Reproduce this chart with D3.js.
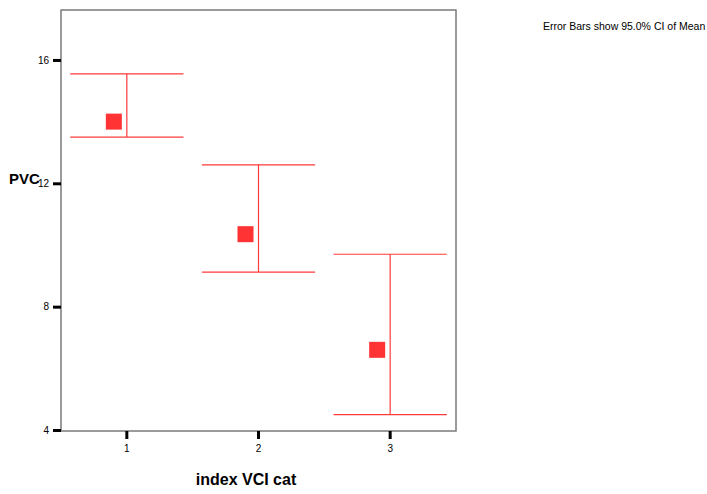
<!DOCTYPE html>
<html>
<head>
<meta charset="utf-8">
<script src="https://cdn.jsdelivr.net/npm/d3@7/dist/d3.min.js"></script>
<style>
  body { margin: 0; background: #fff; }
  svg { display: block; font-family: Arial, "Liberation Sans", sans-serif; }
</style>
</head>
<body>
<svg id="chart" width="707" height="494"></svg>
<script>
// PVC by index VCI category: mean with 95% confidence interval
const categories = ["1", "2", "3"];
const means = [14.0, 10.35, 6.6];
const ciLower = [13.5, 9.12, 4.5];
const ciUpper = [15.55, 12.6, 9.7];
const yTicks = [4, 8, 12, 16];

const svg = d3.select("#chart");
const m = { left: 61, top: 10, right: 456, bottom: 431 };

const x = d3.scaleBand().domain(categories).range([m.left, m.right]).padding(0);
const y = d3.scaleLinear().domain([4, 17.62]).range([m.bottom - 1, m.top]);

const red = "#ff3a3a";

// plot frame
svg.append("rect")
  .attr("x", m.left).attr("y", m.top)
  .attr("width", m.right - m.left).attr("height", m.bottom - m.top)
  .attr("fill", "none").attr("stroke", "#7a7a7a").attr("stroke-width", 1.5);

// y axis title (drawn first so tick labels sit on top of it)
svg.append("text").attr("x", 9).attr("y", 184)
  .attr("font-size", 15).attr("font-weight", "bold").text("PVC");

// y axis
const yAxis = d3.axisLeft(y).tickValues(yTicks).tickSize(8).tickPadding(4).tickFormat(d3.format("d"));
const gy = svg.append("g").attr("transform", `translate(${m.left},0)`).call(yAxis);
gy.select(".domain").remove();
gy.selectAll(".tick line").attr("stroke", "#000").attr("stroke-width", 3);
gy.selectAll(".tick text").attr("font-size", 10).attr("fill", "#000")
  .attr("font-family", "Arial, 'Liberation Sans', sans-serif");

// x axis
const xAxis = d3.axisBottom(x).tickSize(8).tickPadding(6);
const gx = svg.append("g").attr("transform", `translate(0,${m.bottom})`).call(xAxis);
gx.select(".domain").remove();
gx.selectAll(".tick line").attr("stroke", "#000").attr("stroke-width", 3);
gx.selectAll(".tick text").attr("font-size", 10).attr("fill", "#000")
  .attr("font-family", "Arial, 'Liberation Sans', sans-serif");

// error bars
const data = categories.map((c, i) => ({ c, mean: means[i], lo: ciLower[i], hi: ciUpper[i] }));
const capHalf = x.bandwidth() * 0.43;
const g = svg.append("g");
data.forEach(d => {
  const cx = x(d.c) + x.bandwidth() / 2;
  g.append("line").attr("x1", cx).attr("x2", cx).attr("y1", y(d.hi)).attr("y2", y(d.lo))
    .attr("stroke", red).attr("stroke-width", 1.2);
  [d.hi, d.lo].forEach(v => {
    g.append("line").attr("x1", cx - capHalf).attr("x2", cx + capHalf)
      .attr("y1", y(v)).attr("y2", y(v))
      .attr("stroke", red).attr("stroke-width", 1.2);
  });
  g.append("rect")
    .attr("x", cx - 13 - 8).attr("y", y(d.mean) - 8)
    .attr("width", 16).attr("height", 16)
    .attr("fill", "#ff3333");
});

// x axis title
svg.append("text").attr("x", 246).attr("y", 485)
  .attr("text-anchor", "middle").attr("font-size", 16).attr("font-weight", "bold")
  .text("index VCI cat");

// note
svg.append("text").attr("x", 543).attr("y", 30)
  .attr("font-size", 10.5).text("Error Bars show 95.0% CI of Mean");
</script>
</body>
</html>
